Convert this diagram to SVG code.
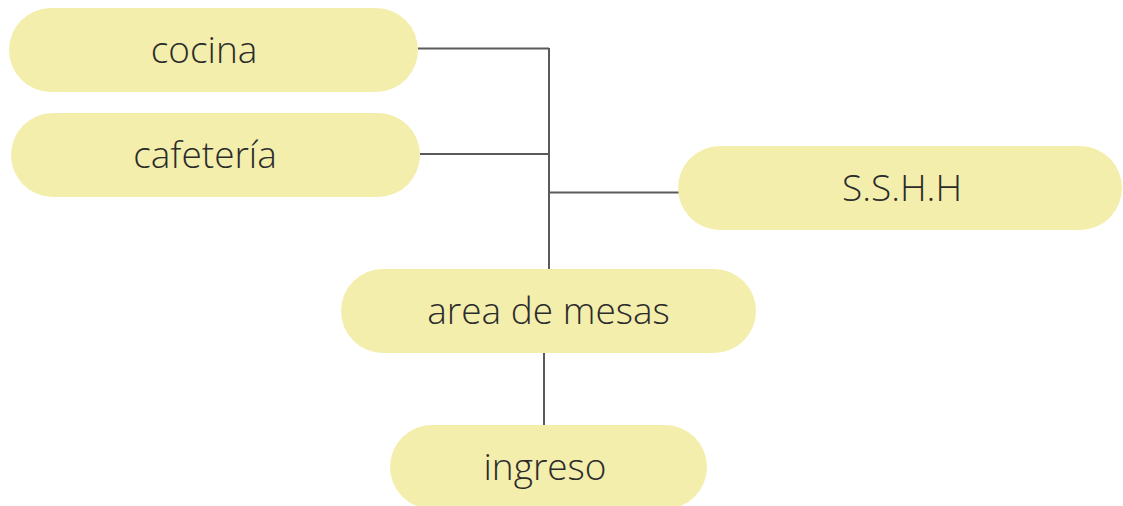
<svg xmlns="http://www.w3.org/2000/svg" width="1123" height="506" viewBox="0 0 1123 506">
<style>
.pill{fill:#f3eeab}
.lbl{font-family:"Open Sans","Liberation Sans",sans-serif;font-size:37px;font-weight:300;fill:#2b2b2b;text-anchor:middle}
.conn{stroke:#5a5a5a;stroke-width:2;fill:none}
</style>
<rect width="1123" height="506" fill="#ffffff"/>
<g id="connectors">
<path class="conn" d="M418 48.5H549M549 48V269M420 154H549M549 192.5H679M544 353V425"/>
</g>
<g id="cocina"><rect class="pill" x="9" y="8" width="409" height="84" rx="42"/><text class="lbl" x="204" y="63">cocina</text></g>
<g id="cafeteria"><rect class="pill" x="11" y="113" width="409" height="84" rx="42"/><text class="lbl" x="205" y="168">cafetería</text></g>
<g id="sshh"><rect class="pill" x="678" y="146" width="444" height="84" rx="42"/><text class="lbl" x="902" y="201">S.S.H.H</text></g>
<g id="area"><rect class="pill" x="341" y="269" width="415" height="84" rx="42"/><text class="lbl" x="548.5" y="324">area de mesas</text></g>
<g id="ingreso"><rect class="pill" x="390" y="425" width="317" height="84" rx="42"/><text class="lbl" x="545" y="480">ingreso</text></g>
</svg>
